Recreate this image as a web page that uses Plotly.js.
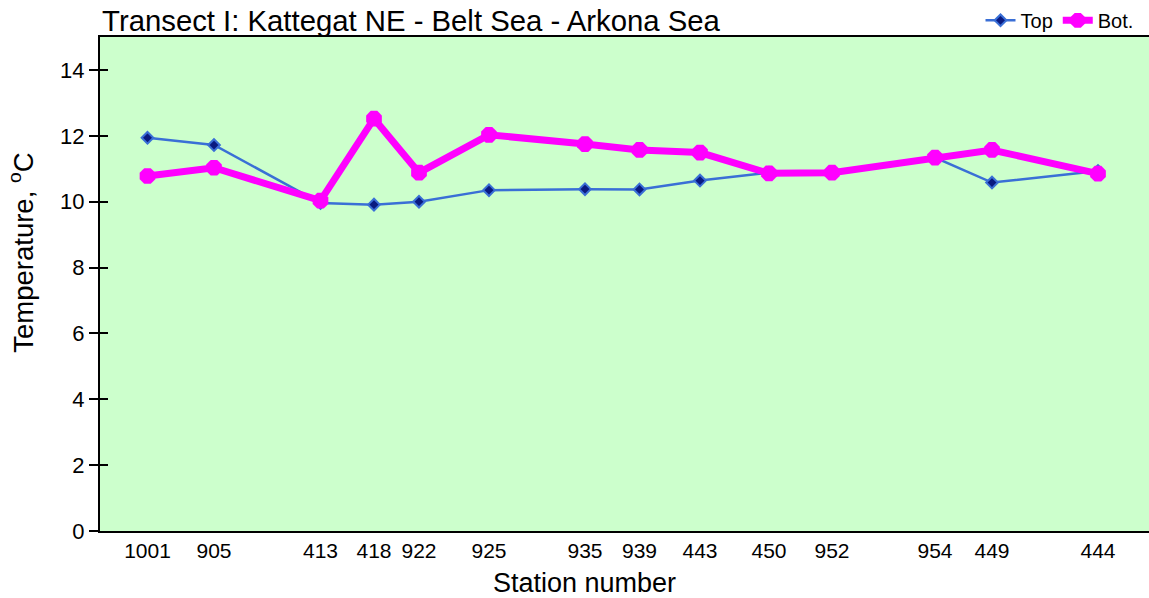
<!DOCTYPE html>
<html>
<head>
<meta charset="utf-8">
<script src="https://cdn.plot.ly/plotly-3.0.1.min.js"></script>
<style>
  html, body { margin: 0; padding: 0; background: #ffffff; }
  #chart { width: 1149px; height: 598px; }
</style>
</head>
<body>
<div id="chart"></div>
<script>
// Stations along the transect, in order, with their distance along the section
const stations = ['1001', '905', '413', '418', '922', '925', '935', '939', '443', '450', '952', '954', '449', '444'];
const distance = [47.5, 114, 220.5, 274, 319, 389, 485, 539.5, 600, 669, 732, 835, 892, 998];

// Temperature (°C) at the top and bottom of each station
const tempTop = [11.94, 11.72, 9.96, 9.91, 10.00, 10.35, 10.38, 10.37, 10.64, 10.88, 10.88, 11.34, 10.58, 10.93];
const tempBot = [10.78, 11.03, 10.03, 12.52, 10.88, 12.03, 11.75, 11.57, 11.49, 10.86, 10.88, 11.34, 11.57, 10.85];

const yTicks = [0, 2, 4, 6, 8, 10, 12, 14];

const FONT = 'Liberation Sans, Arial, Helvetica, sans-serif';

const traces = [
  {
    x: distance, y: tempTop, name: 'Top', type: 'scatter', mode: 'lines+markers',
    line: { color: '#3a6fd6', width: 2.5 },
    marker: { symbol: 'diamond', size: 9, color: '#0a1a80', line: { color: '#3a6fd6', width: 2 } }
  },
  {
    x: distance, y: tempBot, name: 'Bot.', type: 'scatter', mode: 'lines+markers',
    line: { color: '#ff00ff', width: 7 },
    marker: { symbol: 'octagon', size: 17, color: '#ff00ff' }
  },
  // empty trace that carries the second (inside-tick) temperature axis
  { x: [null], y: [null], yaxis: 'y2', type: 'scatter', mode: 'lines', showlegend: false, hoverinfo: 'skip' }
];

const layout = {
  width: 1149, height: 598,
  margin: { l: 100, r: 0, t: 37, b: 67, autoexpand: false },
  paper_bgcolor: '#ffffff',
  plot_bgcolor: '#ccffcc',
  font: { family: FONT, color: '#000000' },
  title: {
    text: 'Transect I: Kattegat NE - Belt Sea - Arkona Sea',
    font: { family: FONT, size: 29.3, color: '#000000' },
    xref: 'paper', x: 0.002, xanchor: 'left',
    yref: 'container', y: 0.966, yanchor: 'middle'
  },
  showlegend: true,
  legend: {
    orientation: 'h', xref: 'paper', x: 0.99, xanchor: 'right',
    yref: 'container', y: 0.966, yanchor: 'middle',
    font: { family: FONT, size: 20, color: '#000000' },
    bgcolor: 'rgba(0,0,0,0)', itemwidth: 30, tracegroupgap: 0
  },
  xaxis: {
    range: [0, 1049], tickmode: 'array', tickvals: distance, ticktext: stations,
    ticks: '', showgrid: false, zeroline: false,
    showline: true, linecolor: '#000000', linewidth: 2, mirror: true,
    tickfont: { family: FONT, size: 21, color: '#000000' }
  },
  yaxis: {
    range: [0, 15], tickmode: 'array', tickvals: yTicks,
    ticks: 'outside', ticklen: 9, tickwidth: 2, tickcolor: '#000000',
    showgrid: false, zeroline: false,
    showline: true, linecolor: '#000000', linewidth: 2,
    tickfont: { family: FONT, size: 22, color: '#000000' }
  },
  yaxis2: {
    overlaying: 'y', side: 'left', anchor: 'x', range: [0, 15], tickmode: 'array', tickvals: yTicks,
    ticks: 'inside', ticklen: 8, tickwidth: 2, tickcolor: '#000000',
    showticklabels: false, showgrid: false, zeroline: false, showline: false
  },
  annotations: [
    {
      text: 'Temperature, <sup>o</sup>C', textangle: -90, showarrow: false,
      xref: 'paper', yref: 'paper', x: -0.0745, y: 0.563, xanchor: 'center', yanchor: 'middle',
      font: { family: FONT, size: 27.5, color: '#000000' }
    },
    {
      text: 'Station number', showarrow: false,
      xref: 'paper', yref: 'paper', x: 0.4614, y: -0.105, xanchor: 'center', yanchor: 'middle',
      font: { family: FONT, size: 27, color: '#000000' }
    }
  ]
};

Plotly.newPlot('chart', traces, layout, { displayModeBar: false, staticPlot: true });
</script>
</body>
</html>
